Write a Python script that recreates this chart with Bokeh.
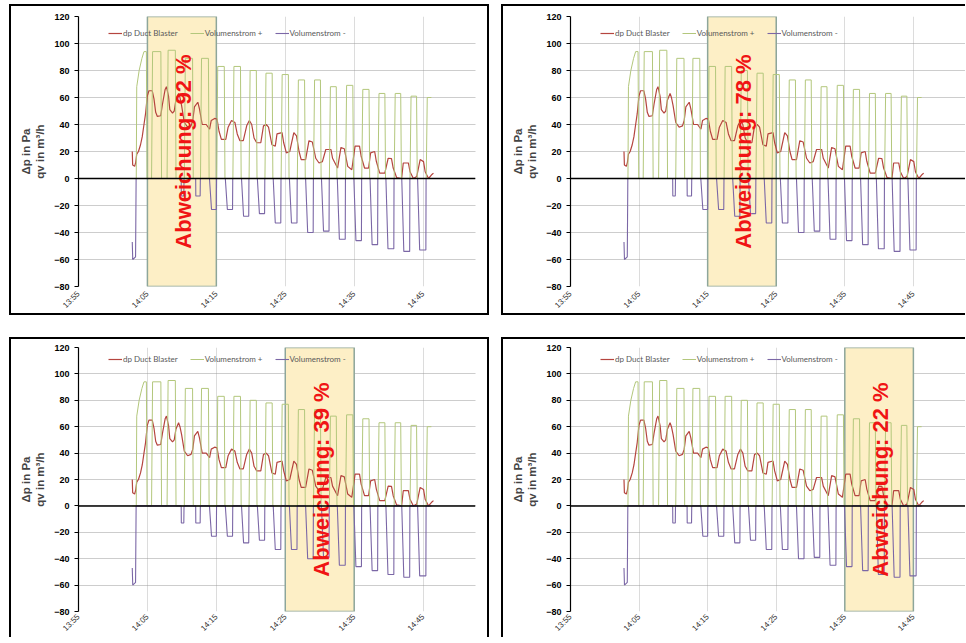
import numpy as np
from bokeh.plotting import figure
from bokeh.models import FixedTicker, Span, Legend, LegendItem, Range1d
from bokeh.layouts import column, row
from bokeh.embed import file_html
from bokeh.resources import INLINE
from bokeh.core.properties import value

# ---------------- data (time in minutes after 13:55) ----------------
tick_minutes = [0, 10, 20, 30, 40, 50]
tick_labels = ["13:55", "14:05", "14:15", "14:25", "14:35", "14:45"]
y_ticks = [-80, -60, -40, -20, 0, 20, 40, 60, 80, 100, 120]
x_min, x_max = 0, 57.6
y_min, y_max = -80, 120

# dp Duct Blaster
red_t = [7.80, 7.86, 8.15, 8.30, 8.45, 8.70, 9.00, 9.25, 9.50, 9.73,
         9.98, 10.22, 10.70, 10.95, 11.20, 11.44, 11.93, 12.18, 12.57, 12.76,
         13.06, 13.25, 13.64, 13.89, 14.13, 14.52, 14.72, 14.96, 15.35, 15.84,
         16.33, 16.58, 16.82, 17.31, 17.55, 17.95, 18.53, 19.02, 19.26, 19.75,
         20.10, 20.39, 20.73, 21.37, 21.71, 22.20, 22.69, 23.03, 23.42, 23.91,
         24.40, 24.79, 25.13, 25.47, 25.86, 26.45, 26.84, 27.23, 27.57, 28.06,
         28.55, 28.80, 29.53, 29.77, 30.16, 30.65, 31.24, 31.63, 32.00, 32.31,
         32.95, 33.44, 33.93, 34.42, 34.90, 35.39, 35.88, 36.62, 36.86, 37.59,
         38.08, 38.57, 39.06, 39.65, 40.13, 40.77, 41.01, 41.50, 42.09, 42.38,
         42.97, 43.21, 43.70, 44.44, 44.93, 45.41, 45.66, 46.15, 46.88, 47.12,
         47.86, 48.10, 48.59, 49.08, 49.57, 50.06, 50.30, 50.79, 51.28, 51.50]
red_v = [20, 10, 9, 12, 18, 20, 25, 31, 40, 48,
         61, 65, 65, 59, 49, 46, 46.5, 55, 66, 68,
         61, 51, 48.5, 50, 58, 63, 60, 54, 41.5, 38,
         39, 43, 53, 56.5, 51.5, 40, 40, 36.5, 43, 44.5,
         44, 35, 29, 29, 38, 43, 41.5, 33, 28, 28,
         39, 43, 40, 30, 26.5, 26.5, 39, 40, 38, 25,
         24, 33, 34, 26.5, 19, 20, 34, 31.5, 20, 14,
         14, 28, 27, 15, 11.5, 12.5, 21.5, 21.5, 15, 7.75,
         23, 22, 9, 6.5, 24, 24, 16.5, 7.75, 7.75, 19,
         20, 12.75, 4, 4, 15, 14.75, 7.75, 0.75, 0, 11.5,
         11.5, 5, 0, 1.5, 14, 12.5, 5, 0, 3, 4]

# Volumenstrom + : first ramp, then pulses
g_first_t = [7.80, 8.38, 8.45, 8.80, 9.20, 9.50, 9.85, 9.95]
g_first_v = [0, 0, 68, 80, 89, 94, 94, 0]
gp_rise = [10.60, 12.85, 15.35, 17.70, 20.05, 22.40, 24.75, 27.05, 29.40,
           31.75, 34.10, 36.40, 38.75, 41.10, 43.45, 45.80, 48.10, 50.45]
gp_top = [10.75, 13.00, 15.50, 17.85, 20.20, 22.55, 24.90, 27.20, 29.55,
          31.90, 34.25, 36.55, 38.90, 41.25, 43.60, 45.95, 48.25, 50.60]
gp_fall = [11.95, 14.05, 16.55, 18.85, 21.15, 23.50, 25.80, 28.10, 30.45,
           32.80, 35.10, 37.40, 39.80, 42.15, 44.45, 46.75, 49.05, 51.20]
gp_zero = [12.05, 14.15, 16.65, 18.95, 21.25, 23.60, 25.90, 28.20, 30.55,
           32.90, 35.20, 37.50, 39.90, 42.25, 44.55, 46.85, 49.15, None]
gp_level = [94, 95, 89, 89, 83, 83, 80, 78, 77, 73, 73, 68, 69, 66, 63, 63, 61, 60]

# Volumenstrom - : first drop, then pulses
q_first_t = [7.80, 7.87, 8.28, 8.36]
q_first_v = [-47, -60, -58, 0]
qp_start = [14.90, 17.00, 19.00, 21.30, 23.65, 25.95, 28.25, 30.60,
            32.95, 35.25, 37.55, 39.95, 42.30, 44.60, 46.90, 49.20]
qp_reach = [14.92, 17.02, 19.30, 21.60, 23.95, 26.25, 28.55, 30.90,
            33.25, 35.55, 37.85, 40.25, 42.60, 44.90, 47.20, 49.50]
qp_end = [15.28, 17.65, 20.00, 22.35, 24.70, 27.00, 29.35, 31.70,
          34.05, 36.35, 38.70, 41.05, 43.40, 45.75, 48.05, 50.40]
qp_level = [-13, -13, -23, -23, -28, -26, -33, -33,
            -40, -39, -45, -46, -49, -52, -54, -53]
q_last_t = 51.20

# highlighted windows and their deviation
band_start = [10, 20, 30, 40]
band_len = 10
deviation = [92, 78, 39, 22]

# ---------------- assemble polylines ----------------
green_t, green_v = list(g_first_t), list(g_first_v)
for r, tp, f, z, lv in zip(gp_rise, gp_top, gp_fall, gp_zero, gp_level):
    green_t += [r, tp, f]
    green_v += [0, lv, lv]
    if z is not None:
        green_t.append(z)
        green_v.append(0)

purple_t, purple_v = list(q_first_t), list(q_first_v)
for s, rc, e, lv in zip(qp_start, qp_reach, qp_end, qp_level):
    purple_t += [s, rc, e, e + 0.03]
    purple_v += [0, lv, lv, 0]
purple_t.append(q_last_t)
purple_v.append(0)

RED = "#B5453F"
GREEN = "#B3C77C"
PURPLE = "#7B67A6"

FRAME_W = 393


def make_panel(i, width, height, mb_left, mb_right, mb_top, mb_bottom, borders, standoff):
    frame_w = width - mb_left - mb_right
    xr_end = x_max * frame_w / FRAME_W
    styles = {"box-sizing": "content-box", "flex-shrink": "0"}
    for side in ["left", "right", "top", "bottom"]:
        styles[f"border-{side}"] = "2px solid black" if side in borders else "0px none"
    p = figure(width=width, height=height, output_backend="svg", toolbar_location=None,
               x_range=Range1d(x_min, xr_end), y_range=Range1d(y_min, y_max),
               min_border_left=mb_left, min_border_right=mb_right,
               min_border_top=mb_top, min_border_bottom=mb_bottom,
               styles=styles)
    p.outline_line_color = None
    p.background_fill_color = "white"
    p.border_fill_color = "white"

    # axes
    p.xaxis.ticker = FixedTicker(ticks=tick_minutes)
    p.xaxis.major_label_overrides = {t: l for t, l in zip(tick_minutes, tick_labels)}
    p.xaxis.major_label_orientation = np.pi / 4
    p.xaxis.axis_line_color = None
    p.xaxis.major_tick_line_color = None
    p.xaxis.minor_tick_line_color = None
    p.xaxis.major_tick_out = 0
    p.xaxis.major_tick_in = 0
    p.xaxis.major_label_standoff = standoff
    p.xaxis.major_label_text_font = "Liberation Sans"
    p.xaxis.major_label_text_font_size = "8px"
    p.xaxis.major_label_text_color = "#303030"

    p.yaxis.ticker = FixedTicker(ticks=y_ticks)
    p.yaxis.axis_line_color = "black"
    p.yaxis.axis_line_width = 1.2
    p.yaxis.major_tick_line_color = "black"
    p.yaxis.major_tick_out = 4
    p.yaxis.major_tick_in = 0
    p.yaxis.minor_tick_line_color = None
    p.yaxis.major_label_standoff = 5
    p.yaxis.major_label_text_font = "Liberation Sans"
    p.yaxis.major_label_text_font_style = "bold"
    p.yaxis.major_label_text_font_size = "9px"
    p.yaxis.major_label_text_color = "black"
    p.yaxis.axis_label = "Δp in Pa\nqv in m³/h"
    p.yaxis.axis_label_text_font = "Liberation Sans"
    p.yaxis.axis_label_text_font_style = "bold"
    p.yaxis.axis_label_text_font_size = "11.5px"
    p.yaxis.axis_label_standoff = 5

    # grids
    p.xgrid.ticker = FixedTicker(ticks=tick_minutes)
    p.xgrid.grid_line_color = "#DCDCDC"
    p.xgrid.grid_line_width = 1
    p.ygrid.ticker = FixedTicker(ticks=y_ticks)
    p.ygrid.grid_line_color = "#9A9A9A"
    p.ygrid.grid_line_dash = "1 1"
    p.ygrid.grid_line_width = 1

    # highlighted window
    bs = band_start[i]
    p.quad(left=[bs], right=[bs + band_len], bottom=[y_min], top=[y_max],
           fill_color="#FDEFC6", line_color="#8DA69B", line_width=1.5)

    r_red = p.line(red_t, red_v, line_color=RED, line_width=1.2)
    r_green = p.line(green_t, green_v, line_color=GREEN, line_width=1)
    r_purple = p.line(purple_t, purple_v, line_color=PURPLE, line_width=1.1)

    p.add_layout(Span(location=0, dimension="width", line_color="black", line_width=1.5))

    p.text(x=[bs + band_len / 2 + 0.2], y=[20], text=[f"Abweichung: {deviation[i]} %"],
           angle=np.pi / 2, text_align="center", text_baseline="middle",
           text_font=value("Liberation Sans"), text_font_style="bold",
           text_font_size="22px", text_color="#F01414")

    frame_h = height - mb_top - mb_bottom
    legend = Legend(items=[LegendItem(label="dp Duct Blaster", renderers=[r_red]),
                           LegendItem(label="Volumenstrom +", renderers=[r_green]),
                           LegendItem(label="Volumenstrom -", renderers=[r_purple])],
                    orientation="horizontal", location=(30, frame_h - 18),
                    background_fill_alpha=0, border_line_color=None,
                    padding=0, margin=0, spacing=12, label_standoff=1,
                    glyph_width=14, glyph_height=10, label_height=10,
                    label_text_font="Lato", label_text_font_size="8px",
                    label_text_color="#595959")
    p.add_layout(legend)
    return p


# canvas sizes (2px borders are added outside via CSS)
p1 = make_panel(0, 476, 307, 67, 16, 10, 31, ["left", "right", "top", "bottom"], 6)
p2 = make_panel(1, 462, 307, 67, 2, 10, 31, ["left", "top", "bottom"], 6)
p3 = make_panel(2, 476, 298, 67, 16, 8, 25, ["left", "right", "top"], 4)
p4 = make_panel(3, 462, 298, 67, 2, 8, 25, ["left", "top"], 4)

layout = column(row(p1, p2, spacing=12), row(p3, p4, spacing=12), spacing=22,
                margin=(4, 0, 0, 9))

open("out.html", "w").write(file_html(layout, INLINE))
